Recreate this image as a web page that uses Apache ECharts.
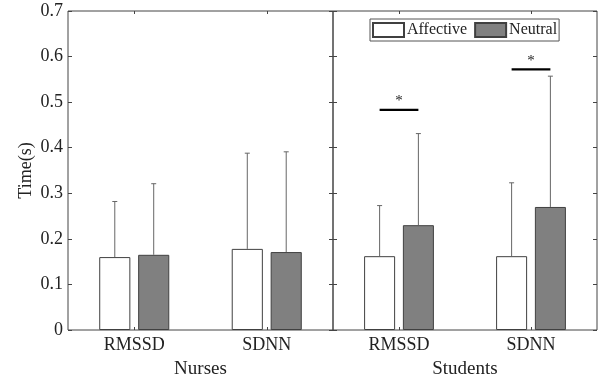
<!DOCTYPE html>
<html><head><meta charset="utf-8">
<script src="https://cdn.jsdelivr.net/npm/echarts@6/dist/echarts.min.js"></script>
<style>html,body{margin:0;padding:0;background:#fff}#c{width:603px;height:384px}</style>
</head><body><div id="c"></div>
<script>
const categories = ['RMSSD', 'SDNN'];
const groupNames = ['Nurses', 'Students'];
const nursesAffective = [0.160, 0.178];
const nursesAffectiveErr = [0.122, 0.210];
const nursesNeutral = [0.165, 0.171];
const nursesNeutralErr = [0.156, 0.220];
const studentsAffective = [0.162, 0.162];
const studentsAffectiveErr = [0.111, 0.161];
const studentsNeutral = [0.230, 0.270];
const studentsNeutralErr = [0.201, 0.287];
const sigLevels = [0.483, 0.572];
const yTicks = [0, 0.1, 0.2, 0.3, 0.4, 0.5, 0.6, 0.7];

const FONT = 'Liberation Serif';
const AX = '#444';
const BARW = 0.235, GAP = 0.25;

const chart = echarts.init(document.getElementById('c'), null, {renderer: 'canvas'});

function xAx(grid, pos, name) {
  const bottom = pos === 'bottom';
  return {
    type: 'category', gridIndex: grid, position: pos, data: categories,
    name: bottom ? name : '', nameLocation: 'middle', nameGap: 30,
    nameTextStyle: {fontFamily: FONT, fontSize: 19, color: '#222'},
    axisLine: {show: false, onZero: false, lineStyle: {color: AX, width: 1}},
    axisTick: {show: true, inside: true, alignWithLabel: true, length: 3, lineStyle: {color: AX}},
    axisLabel: {show: bottom, margin: 6, fontFamily: FONT, fontSize: 18, color: '#222'},
    splitLine: {show: false}
  };
}
function yAx(grid, pos, labels, name) {
  return {
    type: 'value', gridIndex: grid, position: pos, min: yTicks[0], max: yTicks[yTicks.length - 1], interval: 0.1,
    name: name || '', nameLocation: 'middle', nameGap: 33,
    nameTextStyle: {fontFamily: FONT, fontSize: 18, color: '#222'},
    axisLine: {show: false, onZero: false, lineStyle: {color: AX, width: 1}},
    axisTick: {show: true, inside: true, length: 4, lineStyle: {color: AX}},
    axisLabel: {show: labels, margin: 5, fontFamily: FONT, fontSize: 18, color: '#222',
      formatter: v => v === 0 ? '0' : v.toFixed(1)},
    splitLine: {show: false}
  };
}

function errSeries(xi, yi, means, errs, side) {
  return {
    type: 'custom', xAxisIndex: xi, yAxisIndex: yi, z: 5,
    data: means.map((m, i) => [i, m, errs[i]]),
    renderItem: function (params, api) {
      const bw = api.size([1, 0])[0];
      const off = bw * BARW * (1 + GAP) / 2 * side;
      const p0 = api.coord([api.value(0), api.value(1)]);
      const p1 = api.coord([api.value(0), api.value(1) + api.value(2)]);
      const x = p0[0] + off;
      const st = {stroke: '#666', lineWidth: 1};
      return {type: 'group', children: [
        {type: 'line', shape: {x1: x, y1: p0[1], x2: x, y2: p1[1]}, style: st},
        {type: 'line', shape: {x1: x - 2.5, y1: p1[1], x2: x + 2.5, y2: p1[1]}, style: st}
      ]};
    }
  };
}

function sigSeries(xi, yi) {
  return {
    type: 'custom', xAxisIndex: xi, yAxisIndex: yi, z: 6,
    data: sigLevels.map((v, i) => [i, v]),
    renderItem: function (params, api) {
      const bw = api.size([1, 0])[0];
      const off = bw * BARW * (1 + GAP) / 2;
      const p = api.coord([api.value(0), api.value(1)]);
      return {type: 'group', children: [
        {type: 'line', shape: {x1: p[0] - off, y1: p[1], x2: p[0] + off, y2: p[1]},
          style: {stroke: '#000', lineWidth: 2.2}},
        {type: 'text', x: p[0], y: p[1] - 1,
          style: {text: '*', fontFamily: FONT, fontSize: 15, fill: '#222', align: 'center', verticalAlign: 'bottom'}}
      ]};
    }
  };
}

function barSeries(name, xi, yi, data, color) {
  return {
    type: 'bar', name: name, xAxisIndex: xi, yAxisIndex: yi, data: data,
    barWidth: (BARW * 100) + '%', barGap: (GAP * 100) + '%',
    itemStyle: {color: color, borderColor: '#404040', borderWidth: 1}
  };
}

chart.setOption({
  animation: false,
  backgroundColor: '#fff',
  grid: [
    {left: 68, right: 270, top: 11, bottom: 54, show: true, borderColor: AX, borderWidth: 1, backgroundColor: 'transparent'},
    {left: 333, right: 6, top: 11, bottom: 54, show: true, borderColor: AX, borderWidth: 1, backgroundColor: 'transparent'}
  ],
  legend: {
    data: ['Affective', 'Neutral'], left: 370, top: 19,
    orient: 'horizontal', icon: 'rect', itemWidth: 31, itemHeight: 14, itemGap: 7,
    padding: [3, 2, 3, 2], borderColor: '#555', borderWidth: 1, backgroundColor: '#fff',
    textStyle: {fontFamily: FONT, fontSize: 16, color: '#222', padding: [0, 0, 0, -2]}
  },
  xAxis: [xAx(0, 'bottom', groupNames[0]), xAx(0, 'top'), xAx(1, 'bottom', groupNames[1]), xAx(1, 'top')],
  yAxis: [yAx(0, 'left', true, 'Time(s)'), yAx(0, 'right', false), yAx(1, 'left', false), yAx(1, 'right', false)],
  series: [
    barSeries('Affective', 0, 0, nursesAffective, '#ffffff'),
    barSeries('Neutral', 0, 0, nursesNeutral, '#808080'),
    barSeries('Affective', 2, 2, studentsAffective, '#ffffff'),
    barSeries('Neutral', 2, 2, studentsNeutral, '#808080'),
    errSeries(0, 0, nursesAffective, nursesAffectiveErr, -1),
    errSeries(0, 0, nursesNeutral, nursesNeutralErr, 1),
    errSeries(2, 2, studentsAffective, studentsAffectiveErr, -1),
    errSeries(2, 2, studentsNeutral, studentsNeutralErr, 1),
    sigSeries(2, 2)
  ]
});
</script></body></html>
